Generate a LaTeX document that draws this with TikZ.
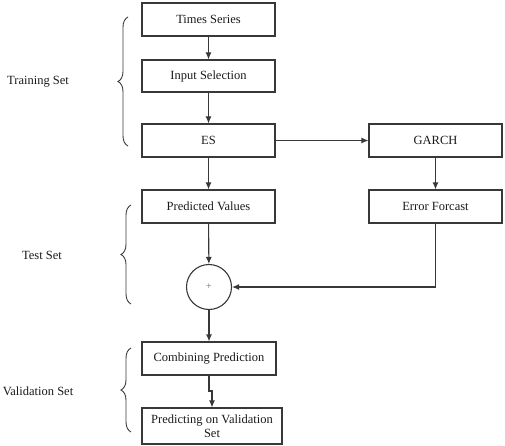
\documentclass[tikz,border=0pt]{standalone}
\usepackage{fontspec}
\setmainfont{Liberation Serif}
\usetikzlibrary{arrows.meta,decorations.pathreplacing}
\begin{document}
\begin{tikzpicture}[x=1pt,y=-1pt,
  line width=1.1pt,
  box/.style={draw=black!78,rectangle,minimum width=133pt,minimum height=33pt,inner sep=1pt,font=\fontsize{12.5}{13.5}\selectfont,text=black!90},
  arr/.style={-{Latex[length=7pt,width=6pt]},draw=black!78},
  brc/.style={draw=black!78,line width=0.9pt,decorate,decoration={brace,amplitude=10pt}},
  lbl/.style={font=\fontsize{12.5}{13.5}\selectfont,text=black!90}]
\useasboundingbox (0,0) rectangle (505,446);
\node[box] (ts) at (208.5,19.5) {Times Series};
\node[box,minimum height=32pt] (is) at (208.5,76) {Input Selection};
\node[box] (es) at (208.5,140.5) {ES};
\node[box] (garch) at (435.5,140.5) {GARCH};
\node[box] (ef) at (435.5,206.5) {Error Forcast};
\node[box] (pv) at (208.5,206.5) {Predicted Values};
\node[circle,draw=black!78,minimum size=45pt,inner sep=0pt,font=\fontsize{10}{11}\selectfont,text=black!60] (plus) at (209,287) {+};
\node[box,minimum width=134pt] (cp) at (209,358.5) {Combining Prediction};
\node[box,minimum width=140pt,minimum height=36pt,align=center,font=\fontsize{12.5}{14}\selectfont] (pvs) at (212,426) {Predicting on Validation\\Set};
\coordinate (j1) at (209,391);
\coordinate (j2) at (212,391);
\coordinate (efc) at (435.5,287);

\draw[arr] (ts) -- (is);
\draw[arr] (is) -- (es);
\draw[arr] (es) -- (pv);
\draw[arr] (es) -- (garch);
\draw[arr] (garch) -- (ef);
\draw[arr] (pv) -- (plus);
\draw[arr] (ef.south) -- (efc) -- (plus.east);
\draw[arr] (plus) -- (cp);
\draw[arr] (cp.south -| j1) -- (j1) -- (j2) -- (pvs.north -| j2);

\coordinate (b1a) at (128,146); \coordinate (b1b) at (128,17);
\coordinate (b2a) at (131,304); \coordinate (b2b) at (131,205);
\coordinate (b3a) at (131,432); \coordinate (b3b) at (131,348);
\draw[brc] (b1a) -- (b1b);
\draw[brc] (b2a) -- (b2b);
\draw[brc] (b3a) -- (b3b);
\node[lbl] (l1) at (38,82) {Training Set};
\node[lbl] (l2) at (42,255) {Test Set};
\node[lbl] (l3) at (38,391) {Validation Set};
\end{tikzpicture}
\end{document}
